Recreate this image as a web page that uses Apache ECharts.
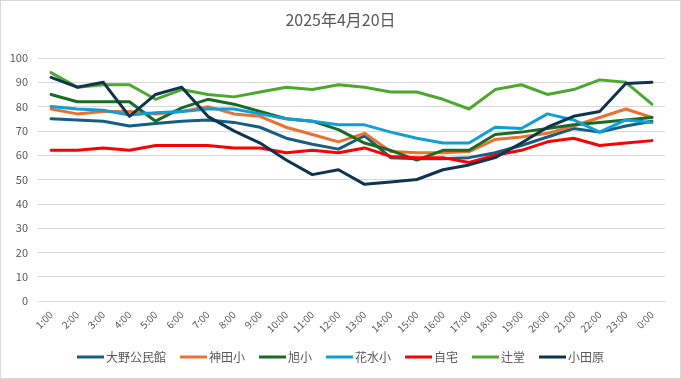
<!DOCTYPE html>
<html><head><meta charset="utf-8">
<script src="https://cdn.jsdelivr.net/npm/echarts@6/dist/echarts.min.js"></script>
<style>html,body{margin:0;padding:0;background:#fff}#c{width:681px;height:379px;box-sizing:border-box;border:1px solid #D9D9D9}</style>
</head><body><div id="c"></div>
<script>
const categories = ['1:00','2:00','3:00','4:00','5:00','6:00','7:00','8:00','9:00','10:00','11:00','12:00','13:00','14:00','15:00','16:00','17:00','18:00','19:00','20:00','21:00','22:00','23:00','0:00'];
const yTicks = [0,10,20,30,40,50,60,70,80,90,100];
const ono = [75,74.5,74,72,73,74,74.5,73.5,71.5,67,64.5,62.5,68,59,58.5,58.5,59,61,64,67.5,71,69.5,72,74];
const kanda = [79,77,78,78,77,78,80,77,76,71.5,68.5,65.5,69,61.5,61,61,61.5,66.5,67.5,69,72,75.5,79,75.5];
const asahi = [85,82,82,82,74,79.5,83,81,78,75,74,70.5,65,62,58,62,62,68.5,69.5,71,72.5,73.5,74.5,75.5];
const hanamizu = [80,79,78.5,76.5,77.5,78,79,79,77,75,74,72.5,72.5,69.5,67,65,65,71.5,71,77,74.5,69.5,74.5,73.5];
const jitaku = [62,62,63,62,64,64,64,63,63,61,62,61,63,59.5,59,59,57,60,62,65.5,67,64,65,66];
const tsujido = [94,88,89,89,83,87,85,84,86,88,87,89,88,86,86,83,79,87,89,85,87,91,90,81];
const odawara = [92,88,90,76,85,88,76,70,65,58,52,54,48,49,50,54,56,59,65,71.5,76,78,89.5,90];
const seriesNames = ['大野公民館','神田小','旭小','花水小','自宅','辻堂','小田原'];
const seriesData = [ono,kanda,asahi,hanamizu,jitaku,tsujido,odawara];
const colors = ['#156082','#E97132','#196B24','#0F9ED5','#FF0000','#4EA72E','#0E3550'];

const chart = echarts.init(document.getElementById('c'), null, {renderer:'canvas'});
const font = "'Noto Sans CJK JP','Liberation Sans',sans-serif";
chart.setOption({
  animation:false,
  color: colors,
  textStyle:{fontFamily:font},
  title:{text:'2025年4月20日',left:'center',top:6,textStyle:{fontSize:16,fontWeight:'normal',color:'#595959',fontFamily:font}},
  legend:{bottom:10,left:'center',itemWidth:27,itemHeight:3,itemGap:14,icon:'rect',
    textStyle:{fontSize:12,color:'#595959',fontFamily:font,padding:[0,0,0,-3]},
    data:seriesNames},
  grid:{left:37,right:15,top:57,bottom:77,containLabel:false},
  xAxis:{type:'category',data:categories,boundaryGap:true,
    axisLine:{lineStyle:{color:'#D9D9D9'}},axisTick:{show:false},
    axisLabel:{rotate:45,interval:0,fontSize:10,color:'#595959',margin:12,fontFamily:font}},
  yAxis:{type:'value',min:yTicks[0],max:yTicks[yTicks.length-1],interval:10,
    axisLine:{show:false},axisTick:{show:false},
    splitLine:{lineStyle:{color:'#D9D9D9'}},
    axisLabel:{fontSize:11,color:'#595959',margin:10,fontFamily:font}},
  series: seriesNames.map((n,i)=>({name:n,type:'line',data:seriesData[i],symbol:'none',
    lineStyle:{width:3,color:colors[i],join:'round',cap:'round'},itemStyle:{color:colors[i]}}))
});
</script></body></html>
